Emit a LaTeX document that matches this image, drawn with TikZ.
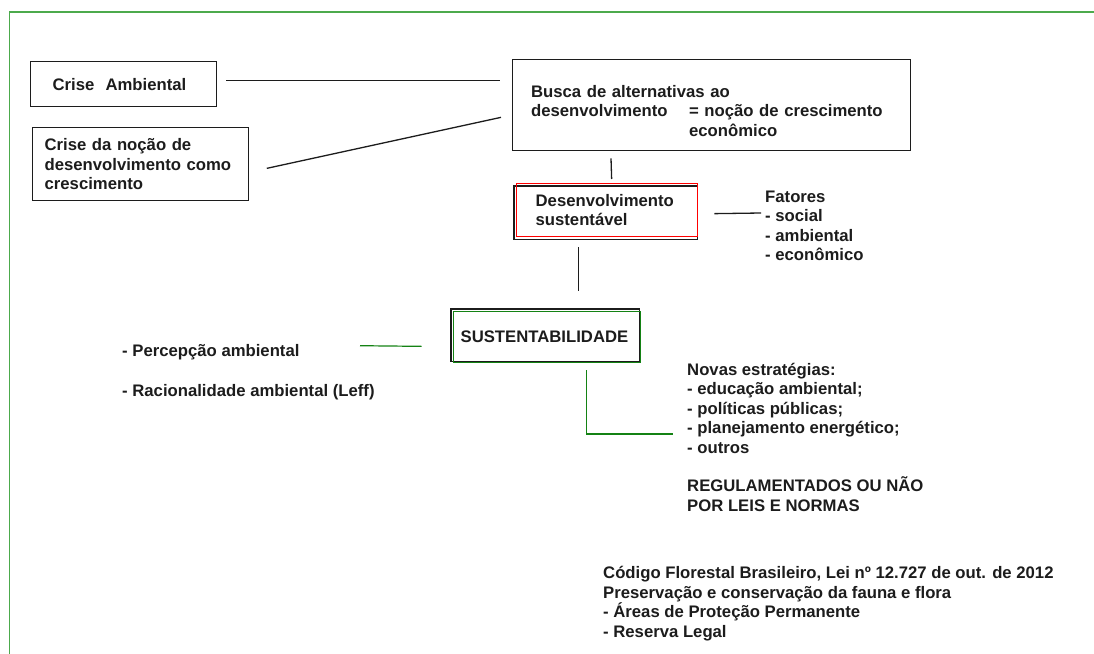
\documentclass[tikz,border=0pt]{standalone}
\usepackage{fontspec}
\setmainfont{Liberation Sans}
\usetikzlibrary{backgrounds}
\definecolor{framegreen}{RGB}{76,170,76}
\definecolor{susgreen}{RGB}{20,130,20}
\definecolor{inkgray}{RGB}{28,28,28}

\begin{document}
\begin{tikzpicture}
  [x=1pt,y=-1pt,
   every node/.style={font=\fontsize{16.7}{19.5}\selectfont\bfseries,text=inkgray},
   box/.style={rectangle,draw=inkgray,line width=1.3pt,anchor=north west,
               align=left,inner ysep=0pt},
   notes/.style={anchor=base west,align=left,inner sep=0pt},
   link/.style={draw=inkgray,line width=1.3pt},
   greenlink/.style={draw=susgreen,line width=1.2pt},
   greenframe/.style={draw=framegreen,line width=1.2pt}]
  \useasboundingbox (0,0) rectangle (1094,653);
  \draw[greenframe] (1110,12) -- (9.5,12) -- (9.5,670);

  \node (crise) at (30,61) [box,inner xsep=22pt,text width=142pt,minimum height=45pt] {Crise~ Ambiental};
  \node (nocao) at (31.5,127) [box,inner xsep=12.5pt,text width=191pt,minimum height=73pt]
    {Crise da noção de\\desenvolvimento como\\crescimento};
  \node (busca) at (511.5,59) [box,inner xsep=19pt,text width=360pt,minimum height=91pt]
    {\rule{0pt}{23pt}Busca de alternativas ao\\\makebox[158pt][l]{desenvolvimento}= noção de crescimento\\\hspace*{158pt}econômico};
  \node (ds) at (516,183) [box,draw=red,inner xsep=19pt,text width=143pt,minimum height=53pt]
    {Desenvolvimento\\sustentável};
  \node (sust) at (453,311) [box,draw=susgreen,inner xsep=7pt,text width=173pt,minimum height=51pt]
    {SUSTENTABILIDADE};
  \begin{scope}[on background layer]
    \draw[link] ([xshift=-2pt,yshift=-3pt]ds.north west) rectangle ([xshift=-1pt,yshift=-2pt]ds.south east);
    \draw[link] ([xshift=-2pt,yshift=2pt]sust.north west) rectangle ([xshift=-2pt,yshift=2pt]sust.south east);
  \end{scope}

  \node (fat) at (765,260.5) [notes] {Fatores\\- social\\- ambiental\\- econômico};
  \node (percep) at (122,356) [notes] {- Percepção ambiental};
  \node (racio) at (122,396) [notes] {- Racionalidade ambiental (Leff)};
  \node (novas) at (687,453) [notes]
    {Novas estratégias:\\- educação ambiental;\\- políticas públicas;\\- planejamento energético;\\- outros};
  \node (regul) at (687,511) [notes] {REGULAMENTADOS OU NÃO\\POR LEIS E NORMAS};
  \node (codigo) at (603,637.2) [notes]
    {Código Florestal Brasileiro, Lei nº 12.727 de out. de 2012\\Preservação e conservação da fauna e flora\\- Áreas de Proteção Permanente\\- Reserva Legal};

  % ligacoes
  \draw[link] ([xshift=9pt,yshift=3.5pt]crise.east) -- ([xshift=-12pt,yshift=24.5pt]busca.west);
  \draw[link] ([xshift=18pt,yshift=-4.2pt]nocao.east) -- ([xshift=-10.5pt,yshift=-12.2pt]busca.west);
  \draw[link] ([xshift=99.5pt,yshift=-7pt]busca.south west) -- ([xshift=4.5pt,yshift=4pt]ds.north);
  \draw[link] ([xshift=16pt,yshift=-3.5pt]ds.east) -- ([xshift=-4pt,yshift=47.5pt]fat.base west);
  \draw[link] ([xshift=-28.5pt,yshift=-10pt]ds.south) -- ([xshift=31.5pt,yshift=20pt]sust.north);
  \draw[greenlink] ([xshift=238pt,yshift=10.3pt]percep.base west) -- ([xshift=-31.5pt,yshift=-9.2pt]sust.west);
  \draw[greenlink] ([xshift=39.5pt,yshift=-7pt]sust.south) |- ([xshift=-14pt,yshift=19pt]novas.base west);
\end{tikzpicture}
\end{document}
